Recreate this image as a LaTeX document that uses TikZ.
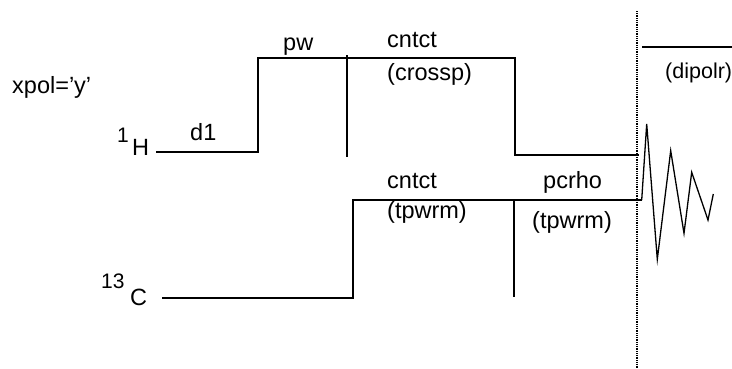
\documentclass[tikz,border=0pt]{standalone}
\usepackage{fontspec}
\setmainfont{Liberation Sans}
\begin{document}
\begin{tikzpicture}[x=1bp,y=-1bp,
  pulse/.style={line width=2bp,line cap=rect,line join=miter},
  fid/.style={line width=1.3bp,line join=miter},
  marker/.style={line width=2bp},
  acq/.style={line width=1.6bp,dash pattern=on 1bp off 0.8bp},
  lbl/.style={anchor=base west,inner sep=0pt,font=\fontsize{23.5bp}{26bp}\selectfont},
  sup/.style={anchor=base west,inner sep=0pt,font=\fontsize{21bp}{24bp}\selectfont}]
\useasboundingbox (0,0) rectangle (732,368);
% 1H channel
\coordinate (h0) at (157,152);
\coordinate (h1) at (258,152);
\coordinate (h2) at (258,58);
\coordinate (h3) at (515,58);
\coordinate (h4) at (515,155);
\coordinate (h5) at (638,155);
\draw[pulse] (h0) -- (h1) -- (h2) -- (h3) -- (h4) -- (h5);
% 13C channel
\coordinate (c0) at (163,298);
\coordinate (c1) at (353,298);
\coordinate (c2) at (353,200);
\coordinate (c3) at (641,200);
\draw[pulse] (c0) -- (c1) -- (c2) -- (c3);
% markers
\coordinate (m1a) at (347,55);
\coordinate (m1b) at (347,157);
\draw[marker] (m1a) -- (m1b);
\coordinate (m2a) at (514,200);
\coordinate (m2b) at (514,297);
\draw[marker] (m2a) -- (m2b);
% acquisition line
\coordinate (acqa) at (637,11);
\coordinate (acqb) at (637,368);
\draw[acq] (acqa) -- (acqb);
% decoupling line
\coordinate (da) at (643,47);
\coordinate (db) at (731,47);
\draw[pulse] (da) -- (db);
% FID
\coordinate (f0) at (641.7,200);
\coordinate (f1) at (646.7,124);
\coordinate (f2) at (657.3,259.3);
\coordinate (f3) at (670.7,150.7);
\coordinate (f4) at (684,233.3);
\coordinate (f5) at (691.7,172.3);
\coordinate (f6) at (708,220);
\coordinate (f7) at (713.3,194);
\draw[fid] (f0) -- (f1) -- (f2) -- (f3) -- (f4) -- (f5) -- (f6) -- (f7);
% labels
\node[lbl] (xpol) at (12,93) {xpol=\symbol{39}y\symbol{39}};
\node[sup] (hsup) at (117,142) {1};
\node[lbl] (hlab) at (132,155) {H};
\node[sup] (csup) at (101,288) {13};
\node[lbl] (clab) at (130,305) {C};
\node[lbl] (d1) at (190,140) {d1};
\node[lbl] (pw) at (283,50) {pw};
\node[lbl] (cnt1) at (387,47) {cntct};
\node[lbl] (cross) at (387,80) {(crossp)};
\node[lbl] (cnt2) at (387,188) {cntct};
\node[lbl] (tpw1) at (387,218) {(tpwrm)};
\node[lbl] (pcrho) at (543,188) {pcrho};
\node[lbl] (tpw2) at (532,228) {(tpwrm)};
\node[lbl,font=\fontsize{21.5bp}{24bp}\selectfont] (dip) at (665,78) {(dipolr)};
\end{tikzpicture}
\end{document}
